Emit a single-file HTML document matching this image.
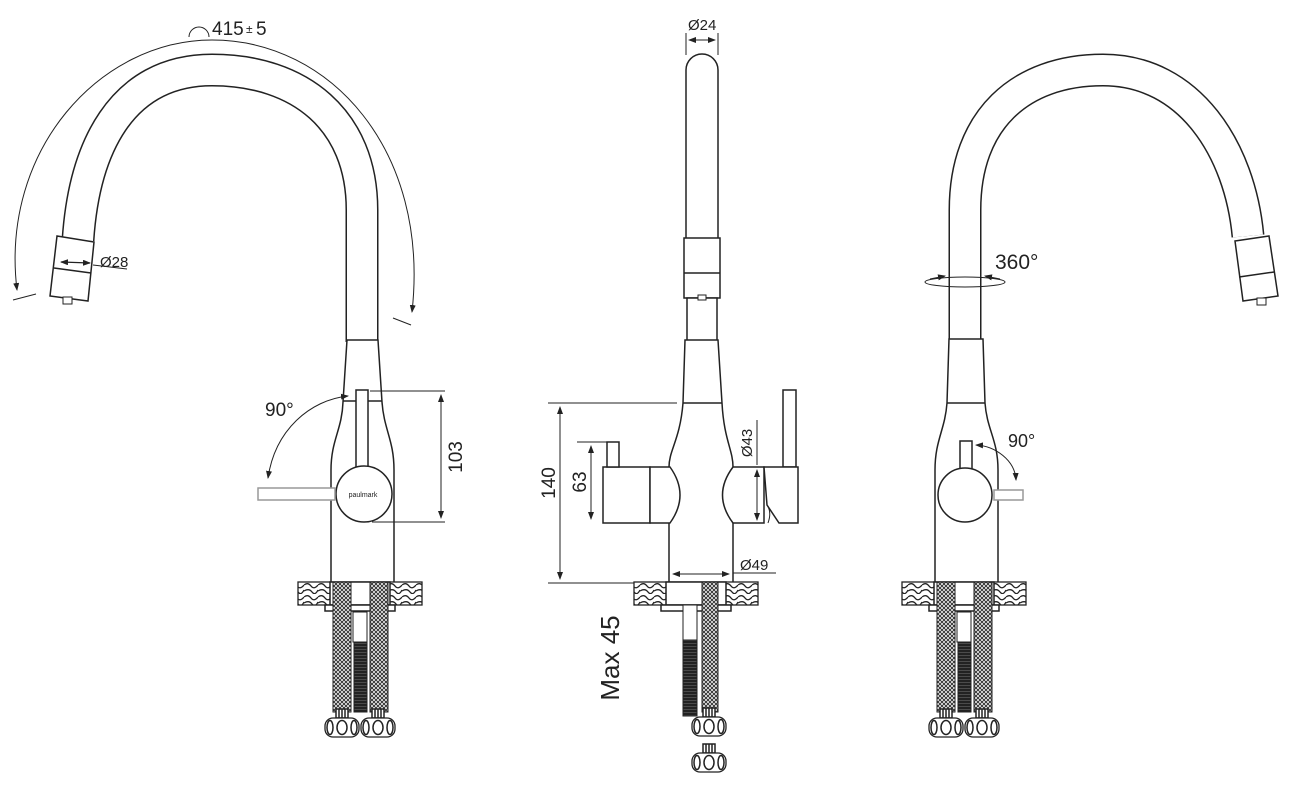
<!DOCTYPE html>
<html><head><meta charset="utf-8"><style>
html,body{margin:0;padding:0;background:#fff;}
svg{display:block;}
text{font-family:"Liberation Sans",sans-serif;fill:#222;}
</style></head><body>
<svg width="1289" height="787" viewBox="0 0 1289 787" xmlns="http://www.w3.org/2000/svg">
<defs>
<pattern id="braid" width="4" height="4" patternUnits="userSpaceOnUse">
<rect width="4" height="4" fill="#fff"/>
<path d="M0 0L4 4M4 0L0 4" stroke="#333" stroke-width="1"/>
</pattern>
<pattern id="thread" width="4" height="3" patternUnits="userSpaceOnUse">
<rect width="4" height="3" fill="#222"/>
<path d="M0 1.5H4" stroke="#555" stroke-width="0.8"/>
</pattern>
<pattern id="wood" width="14" height="12" patternUnits="userSpaceOnUse">
<rect width="14" height="12" fill="#fff"/>
<path d="M0 3Q4 0 7 4T14 3M0 9Q5 6 8 10T14 8" stroke="#222" stroke-width="1.3" fill="none"/>
</pattern>
<marker id="ar" markerWidth="8" markerHeight="6" refX="7" refY="3" orient="auto" markerUnits="userSpaceOnUse">
<path d="M0 0L8 3L0 6z" fill="#222"/></marker>
<marker id="al" markerWidth="8" markerHeight="6" refX="1" refY="3" orient="auto" markerUnits="userSpaceOnUse">
<path d="M8 0L0 3L8 6z" fill="#222"/></marker>
<g id="nut">
<rect x="-6" y="-9" width="12" height="9" fill="#fff" stroke="#222"/>
<path d="M-3 -9V0M0 -9V0M3 -9V0" stroke="#222"/>
<rect x="-17" y="0" width="34" height="19" rx="8" fill="#fff" stroke="#222" stroke-width="1.3"/>
<ellipse cx="0" cy="9.5" rx="5" ry="7" fill="none" stroke="#222"/>
<ellipse cx="-12" cy="9.5" rx="3" ry="7" fill="none" stroke="#222"/>
<ellipse cx="12" cy="9.5" rx="3" ry="7" fill="none" stroke="#222"/>
</g>
<g id="plate">
<rect x="-62" y="0" width="124" height="23" fill="url(#wood)" stroke="#222" stroke-width="1.3"/>
<rect x="-30" y="0" width="60" height="23" fill="#fff" stroke="#222"/>
<rect x="-35" y="23" width="70" height="6" fill="#fff" stroke="#222"/>
</g>
</defs>

<g fill="none" stroke="#222" stroke-width="1.5">
<!-- ===== LEFT VIEW ===== -->
<path d="M78 240 C84 150 120 70 212 70 C300 70 362 120 362 210 L362 342" stroke="#222" stroke-width="33"/>
<path d="M78 240 C84 150 120 70 212 70 C300 70 362 120 362 210 L362 342" stroke="#fff" stroke-width="30"/>
<polygon points="57,236 94,242 88,301 50,296" fill="#fff"/>
<line x1="54" y1="268" x2="91" y2="273"/>
<rect x="63" y="297" width="9" height="7" fill="#fff" stroke-width="1"/>
<path d="M17 290 C0 150 100 40 212 40 C330 40 430 150 412 312" stroke-width="1" marker-start="url(#al)" marker-end="url(#ar)"/>
<line x1="13" y1="300" x2="36" y2="294" stroke-width="1"/>
<line x1="393" y1="318" x2="411" y2="325" stroke-width="1"/>
<path d="M189 37 A10 10 0 0 1 209 37" stroke-width="1"/>
<line x1="61" y1="262" x2="90" y2="263" stroke-width="1.2" marker-start="url(#al)" marker-end="url(#ar)"/>
<line x1="93" y1="265" x2="127" y2="269" stroke-width="1"/>
<path d="M347 340 L378 340 L382 402 C384 430 394 440 394 470 L394 583 L331 583 L331 470 C331 440 342 430 343 402 Z" fill="#fff"/>
<line x1="343" y1="401" x2="382" y2="401"/>
<rect x="356" y="390" width="12" height="78" fill="#fff"/>
<circle cx="364" cy="494" r="28" fill="#fff"/>
<rect x="258" y="488" width="77" height="12" fill="#fff" stroke="#999"/>
<g stroke-width="1">
<line x1="370" y1="391" x2="445" y2="391"/><line x1="372" y1="522" x2="445" y2="522"/>
<line x1="441" y1="395" x2="441" y2="518" marker-start="url(#al)" marker-end="url(#ar)"/>
<path d="M348 396 C310 400 275 430 268 478" marker-start="url(#al)" marker-end="url(#ar)"/>
</g>
<use href="#plate" x="360" y="582"/>
<rect x="333" y="582" width="18" height="130" fill="url(#braid)" stroke-width="1"/>
<rect x="370" y="582" width="18" height="130" fill="url(#braid)" stroke-width="1"/>
<rect x="353" y="612" width="14" height="30" fill="#fff" stroke-width="1"/>
<rect x="354" y="642" width="13" height="70" fill="url(#thread)" stroke-width="1"/>
<use href="#nut" x="342" y="718"/><use href="#nut" x="378" y="718"/>

<!-- ===== MIDDLE VIEW ===== -->
<path d="M686 240 L686 70 A16 16 0 0 1 718 70 L718 240" fill="#fff"/>
<rect x="684" y="238" width="36" height="60" fill="#fff"/>
<line x1="684" y1="273" x2="720" y2="273"/>
<rect x="687" y="298" width="30" height="44" fill="#fff"/>
<rect x="698" y="295" width="8" height="5" fill="#fff" stroke-width="1"/>
<path d="M685 340 L718 340 L722 403 C724 440 733 450 733 467 L733 583 L669 583 L669 467 C669 450 680 440 683 403 Z" fill="#fff"/>
<line x1="683" y1="403" x2="722" y2="403"/>
<rect x="603" y="467" width="47" height="56" fill="#fff"/>
<path d="M650 467 L670 467 Q690 495 670 523 L650 523 Z" fill="#fff"/>
<rect x="607" y="442" width="12" height="25" fill="#fff"/>
<path d="M733 467 Q712 495 733 523 L764 523 L764 467 Z" fill="#fff"/>
<rect x="783" y="390" width="13" height="77" fill="#fff"/>
<path d="M764 467 L798 467 L798 523 L779 523 L767 505 Z" fill="#fff"/>
<path d="M767 505 Q772 512 768 523" stroke-width="1"/>
<g stroke-width="1">
<line x1="686" y1="33" x2="686" y2="55"/><line x1="718" y1="33" x2="718" y2="55"/>
<line x1="689" y1="40" x2="715" y2="40" marker-start="url(#al)" marker-end="url(#ar)"/>
<line x1="548" y1="403" x2="677" y2="403"/><line x1="548" y1="583" x2="640" y2="583"/>
<line x1="560" y1="407" x2="560" y2="579" marker-start="url(#al)" marker-end="url(#ar)"/>
<line x1="577" y1="442" x2="619" y2="442"/>
<line x1="591" y1="446" x2="591" y2="519" marker-start="url(#al)" marker-end="url(#ar)"/>
<line x1="757" y1="420" x2="757" y2="465"/>
<line x1="757" y1="470" x2="757" y2="520" marker-start="url(#al)" marker-end="url(#ar)"/>
<line x1="673" y1="574" x2="729" y2="574" marker-start="url(#al)" marker-end="url(#ar)"/>
<line x1="733" y1="573" x2="776" y2="573"/>
</g>
<use href="#plate" x="696" y="582"/>
<rect x="702" y="582" width="16" height="130" fill="url(#braid)" stroke-width="1"/>
<rect x="683" y="605" width="14" height="35" fill="#fff" stroke-width="1"/>
<rect x="683" y="640" width="14" height="76" fill="url(#thread)" stroke-width="1"/>
<use href="#nut" x="709" y="717"/><use href="#nut" x="709" y="753"/>

<!-- ===== RIGHT VIEW ===== -->
<path d="M965 342 L965 210 C965 120 1020 70 1103 70 C1190 70 1240 150 1248 236" stroke="#222" stroke-width="33"/>
<path d="M965 342 L965 210 C965 120 1020 70 1103 70 C1190 70 1240 150 1248 236" stroke="#fff" stroke-width="30"/>
<polygon points="1235,241 1269,236 1278,296 1243,301" fill="#fff"/>
<line x1="1239" y1="277" x2="1274" y2="272"/>
<rect x="1257" y="298" width="9" height="7" fill="#fff" stroke-width="1"/>
<ellipse cx="965" cy="282" rx="40" ry="5" stroke-width="1"/>
<path d="M930 279 L945 276" stroke-width="1" marker-end="url(#ar)"/>
<path d="M1000 279 L985 276" stroke-width="1" marker-end="url(#ar)"/>
<path d="M949 339 L983 339 L985 403 C987 430 998 440 998 470 L998 583 L935 583 L935 470 C935 440 945 430 947 403 Z" fill="#fff"/>
<line x1="947" y1="403" x2="985" y2="403"/>
<rect x="960" y="441" width="12" height="28" fill="#fff"/>
<circle cx="965" cy="495" r="27" fill="#fff"/>
<rect x="994" y="490" width="29" height="10" fill="#fff" stroke="#999"/>
<path d="M976 445 C995 446 1015 460 1016 480" stroke-width="1" marker-start="url(#al)" marker-end="url(#ar)"/>
<use href="#plate" x="964" y="582"/>
<rect x="937" y="582" width="18" height="130" fill="url(#braid)" stroke-width="1"/>
<rect x="974" y="582" width="18" height="130" fill="url(#braid)" stroke-width="1"/>
<rect x="957" y="612" width="14" height="30" fill="#fff" stroke-width="1"/>
<rect x="958" y="642" width="13" height="70" fill="url(#thread)" stroke-width="1"/>
<use href="#nut" x="946" y="718"/><use href="#nut" x="982" y="718"/>
</g>

<g font-size="19">
<text x="212" y="35">415</text><text x="246" y="33" font-size="12">±</text><text x="256" y="35">5</text>
<text x="100" y="267" font-size="15">Ø28</text>
<text x="265" y="416">90°</text>
<text x="688" y="30" font-size="15">Ø24</text>
<text x="740" y="570" font-size="15">Ø49</text>
<text x="995" y="269" font-size="21">360°</text>
<text x="1008" y="447" font-size="18">90°</text>
<text x="363" y="497" font-size="7" text-anchor="middle">paulmark</text>
<text transform="translate(462 457) rotate(-90)" text-anchor="middle">103</text>
<text transform="translate(555 483) rotate(-90)" text-anchor="middle">140</text>
<text transform="translate(586 482) rotate(-90)" text-anchor="middle">63</text>
<text transform="translate(752 443) rotate(-90)" text-anchor="middle" font-size="15">Ø43</text>
<text transform="translate(619 658) rotate(-90)" text-anchor="middle" font-size="26">Max 45</text>
</g>
</svg>
</body></html>
